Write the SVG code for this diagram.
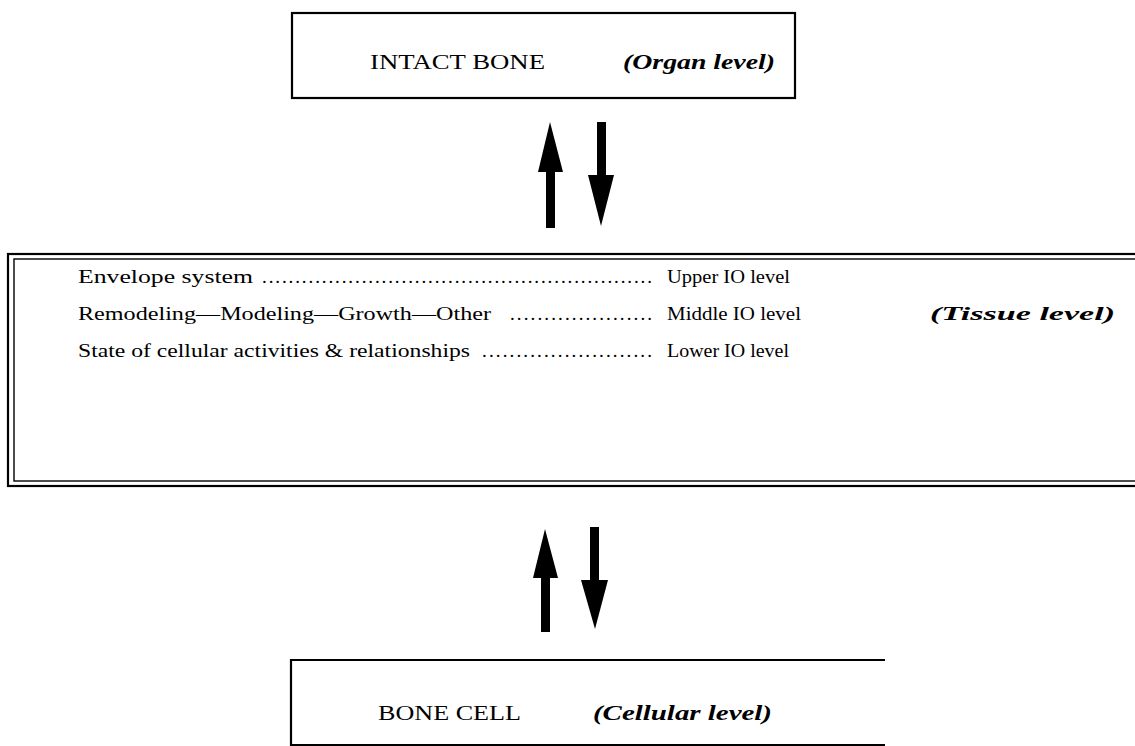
<svg xmlns="http://www.w3.org/2000/svg" width="1135" height="746" viewBox="0 0 1135 746">
<style>
.box{fill:none;stroke:#000;stroke-width:2.2}
.inner{fill:none;stroke:#000;stroke-width:1.4}
.t{font-family:"Liberation Serif","Times New Roman",serif;fill:#000}
.lbl{font-size:22px}
.row{font-size:19px}
.lv{font-family:"Liberation Serif","Times New Roman",serif;font-style:italic;font-weight:bold;fill:#000}
.arr{fill:#000}
</style>
<rect width="1135" height="746" fill="#fff"/>
<g id="intact-bone">
<rect class="box" x="292" y="13" width="503" height="85"/>
<text class="t lbl" x="370" y="69" textLength="175" lengthAdjust="spacingAndGlyphs">INTACT BONE</text>
<text class="lv lbl" x="623" y="69" textLength="152" lengthAdjust="spacingAndGlyphs">(Organ  level)</text>
</g>
<g id="tissue">
<rect class="box" x="8" y="254" width="1140" height="232"/>
<rect class="inner" x="14" y="259" width="1140" height="222"/>
<text class="t row" x="78" y="283"><tspan textLength="175" lengthAdjust="spacingAndGlyphs">Envelope  system</tspan><tspan x="262" textLength="390" lengthAdjust="spacing">...........................................................</tspan><tspan x="667" textLength="123" lengthAdjust="spacingAndGlyphs">Upper IO level</tspan></text>
<text class="t row" x="78" y="320"><tspan textLength="413" lengthAdjust="spacingAndGlyphs">Remodeling—Modeling—Growth—Other</tspan><tspan x="510" textLength="142" lengthAdjust="spacing">.....................</tspan><tspan x="667" textLength="134" lengthAdjust="spacingAndGlyphs">Middle IO level</tspan></text>
<text class="lv row" x="930" y="320" textLength="185" lengthAdjust="spacingAndGlyphs">(Tissue  level)</text>
<text class="t row" x="78" y="357"><tspan textLength="392" lengthAdjust="spacingAndGlyphs">State of cellular activities &amp; relationships</tspan><tspan x="482" textLength="170" lengthAdjust="spacing">.........................</tspan><tspan x="667" textLength="122" lengthAdjust="spacingAndGlyphs">Lower IO level</tspan></text>
</g>
<g id="bone-cell">
<path class="box" d="M291 746 V660 H885"/>
<line class="box" x1="291" y1="745" x2="885" y2="745"/>
<text class="t lbl" x="378" y="720" textLength="143" lengthAdjust="spacingAndGlyphs">BONE CELL</text>
<text class="lv lbl" x="593" y="720" textLength="179" lengthAdjust="spacingAndGlyphs">(Cellular  level)</text>
</g>
<g id="connectors">
<polygon class="arr" points="550,122 563,172 555,172 555,228 546,228 546,172 538,172"/>
<polygon class="arr" points="597,122 606,122 606,175 614,175 601,226 588,175 597,175"/>
<polygon class="arr" points="545,529 558,578 550,578 550,632 541,632 541,578 533,578"/>
<polygon class="arr" points="590,527 599,527 599,580 608,580 595,629 581,580 590,580"/>
</g>
</svg>
